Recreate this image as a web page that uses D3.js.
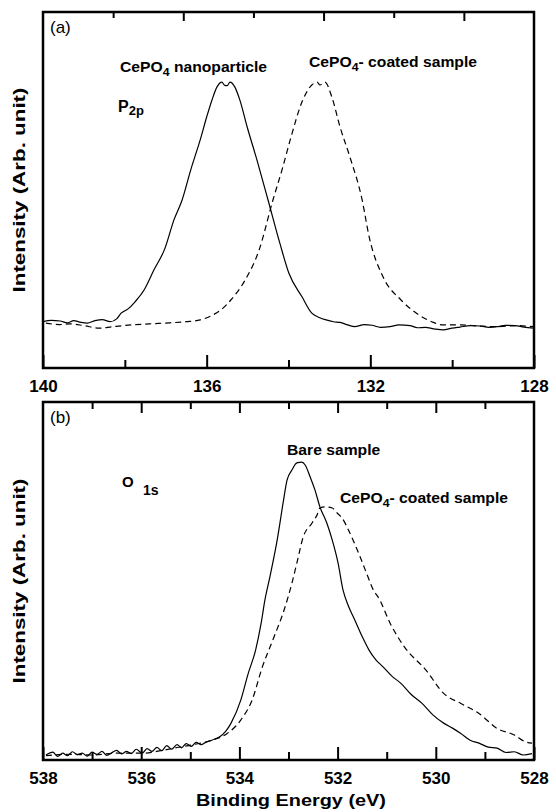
<!DOCTYPE html>
<html>
<head>
<meta charset="utf-8">
<script src="https://cdn.jsdelivr.net/npm/d3@7"></script>
<style>
  body { margin: 0; background: #fff; }
  text { font-family: "Liberation Sans", Arial, sans-serif; fill: #000; }
</style>
</head>
<body>
<div id="chart"></div>
<script>
// ---- data (binding energy eV, intensity arb.) ----
const p2pNano = [
  [140.00,13.0],[139.80,13.4],[139.58,13.2],[139.40,12.7],[139.25,13.3],[139.10,12.9],[138.92,12.6],
  [138.73,13.3],[138.55,13.6],[138.36,13.0],[138.20,13.8],[138.09,15.4],[137.92,16.6],[137.75,18.6],
  [137.53,21.9],[137.29,27.5],[137.02,33.6],[136.80,41.6],[136.60,47.2],[136.38,56.0],[136.16,64.0],
  [136.00,70.5],[135.87,75.3],[135.75,78.9],[135.63,80.3],[135.56,79.4],[135.50,79.3],[135.43,80.3],
  [135.31,78.9],[135.19,75.3],[135.01,67.7],[134.77,58.4],[134.50,47.2],[134.21,35.0],[133.99,26.6],
  [133.67,20.0],[133.43,15.4],[133.25,14.2],[133.08,13.5],[132.90,13.0],[132.74,12.8],[132.55,12.1],
  [132.38,11.6],[132.15,12.2],[131.96,12.0],[131.75,11.4],[131.52,11.6],[131.30,12.1],[131.03,11.9],
  [130.85,11.3],[130.66,11.4],[130.45,11.0],[130.22,10.7],[130.00,11.2],[129.81,11.5],[129.55,11.9],
  [129.32,11.8],[129.10,11.4],[128.90,11.6],[128.70,12.0],[128.46,11.9],[128.25,11.5],[128.00,11.2]
];
const p2pCoated = [
  [139.93,12.6],[139.60,12.2],[139.34,12.4],[139.00,11.9],[138.63,11.2],[138.30,11.6],[137.85,12.1],
  [137.40,12.4],[136.90,12.7],[136.50,13.0],[136.16,13.5],[135.85,14.9],[135.62,16.6],[135.41,19.1],
  [135.06,24.7],[134.72,33.1],[134.38,47.2],[134.15,56.0],[133.96,64.0],[133.65,75.3],[133.43,79.5],
  [133.30,80.3],[133.23,79.5],[133.11,80.3],[132.94,76.1],[132.74,67.7],[132.50,59.3],[132.20,47.2],
  [132.03,36.9],[131.69,25.6],[131.25,19.1],[130.81,14.9],[130.50,13.0],[130.22,12.1],[129.78,12.1],
  [129.35,11.8],[128.90,11.6],[128.45,11.9],[128.00,11.6]
];
const o1sBare = [
  [537.94,1.4],[537.80,2.2],[537.70,1.0],[537.60,1.9],[537.50,1.2],[537.40,2.3],[537.30,1.5],
  [537.20,1.9],[537.10,1.1],[537.00,2.2],[536.90,1.6],[536.80,2.4],[536.70,1.3],[536.60,2.0],
  [536.50,2.7],[536.40,1.7],[536.30,2.4],[536.20,1.8],[536.10,3.0],[535.98,1.9],[535.88,3.2],
  [535.78,2.4],[535.68,3.5],[535.58,2.6],[535.48,4.0],[535.38,3.0],[535.27,4.3],[535.18,3.4],
  [535.08,4.6],[534.98,3.8],[534.88,4.9],[534.78,4.3],[534.68,5.0],[534.55,5.6],[534.40,6.5],
  [534.28,8.0],[534.17,10.3],[533.97,16.8],[533.82,24.2],[533.67,30.7],[533.56,38.0],[533.48,44.7],
  [533.38,51.1],[533.23,61.5],[533.11,71.8],[533.03,78.2],[532.93,81.0],[532.83,83.0],[532.73,83.2],
  [532.66,82.4],[532.56,79.1],[532.46,75.4],[532.36,70.7],[532.22,66.2],[532.11,61.5],[531.99,55.0],
  [531.89,47.5],[531.78,43.0],[531.65,39.1],[531.50,34.5],[531.36,30.7],[531.22,28.0],[531.08,26.1],
  [530.90,23.5],[530.71,21.4],[530.50,18.3],[530.28,15.8],[530.06,12.6],[529.84,10.3],[529.66,8.9],
  [529.49,7.4],[529.30,5.5],[529.12,4.7],[528.93,3.6],[528.75,3.3],[528.57,2.1],[528.40,2.3],
  [528.22,1.4],[528.04,1.8]
];
const o1sCoated = [
  [537.94,1.2],[537.50,1.6],[537.00,1.4],[536.50,1.9],[535.98,1.9],[535.60,2.6],[535.27,3.5],
  [534.90,4.4],[534.54,5.6],[534.25,7.4],[533.97,11.2],[533.74,16.8],[533.53,26.1],[533.32,33.5],
  [533.09,41.9],[532.93,49.4],[532.83,55.0],[532.70,62.3],[532.52,66.2],[532.42,68.4],[532.36,70.4],
  [532.26,70.7],[532.11,70.4],[532.01,69.0],[531.91,67.6],[531.75,63.4],[531.54,56.7],[531.38,51.1],
  [531.30,48.3],[531.14,44.7],[530.93,38.2],[530.64,31.6],[530.20,25.1],[529.84,18.6],[529.49,15.8],
  [529.12,13.0],[528.75,8.8],[528.40,7.0],[528.18,5.1],[528.04,4.7]
];

const xMajorA = [140, 136, 132, 128];
const xMinorA = [138, 134, 130];
const topDivA = [1, 2, 3, 4, 5, 6];   // top axis of (a) is split in 7 parts in the original
const xMajorB = [538, 536, 534, 532, 530, 528];
const xMinorB = [537, 535, 533, 531, 529];

const width = 556, height = 812;
const left = 43, right = 534;

const svg = d3.select("#chart").append("svg")
  .attr("width", width).attr("height", height);
svg.append("rect").attr("width", width).attr("height", height).attr("fill", "#fff");

function drawPanel(cfg) {
  const x = d3.scaleLinear().domain(cfg.xDomain).range([left, right]);
  const y = d3.scaleLinear().domain([0, 100]).range([cfg.bottom, cfg.top]);
  const g = svg.append("g");

  const clipId = "clip" + cfg.id;
  svg.append("clipPath").attr("id", clipId).append("rect")
    .attr("x", left).attr("y", cfg.top).attr("width", right - left).attr("height", cfg.bottom - cfg.top);

  const line = d3.line().x(d => x(d[0])).y(d => y(d[1])).curve(d3.curveMonotoneX);

  g.append("path").datum(cfg.solid)
    .attr("clip-path", `url(#${clipId})`)
    .attr("fill", "none").attr("stroke", "#000").attr("stroke-width", 1.2)
    .attr("d", line);
  g.append("path").datum(cfg.dashed)
    .attr("clip-path", `url(#${clipId})`)
    .attr("fill", "none").attr("stroke", "#000").attr("stroke-width", 1.2)
    .attr("stroke-dasharray", "6,4")
    .attr("d", line);

  // bottom axis, ticks pointing inward
  const major = g.append("g").attr("transform", `translate(0,${cfg.bottom})`)
    .call(d3.axisBottom(x).tickValues(cfg.major).tickSize(-13).tickFormat(d3.format("d")));
  g.append("g").attr("transform", `translate(0,${cfg.bottom})`)
    .call(d3.axisBottom(x).tickValues(cfg.minor).tickSize(-8).tickFormat(""));

  // top axis
  if (cfg.topScale) {
    const t = cfg.topScale;
    g.append("g").attr("transform", `translate(0,${cfg.top})`)
      .call(d3.axisTop(t).tickValues(topDivA.filter(d => d % 2 === 1)).tickSize(-6).tickFormat(""));
    g.append("g").attr("transform", `translate(0,${cfg.top})`)
      .call(d3.axisTop(t).tickValues(topDivA.filter(d => d % 2 === 0)).tickSize(-9).tickFormat(""));
  } else {
    g.append("g").attr("transform", `translate(0,${cfg.top})`)
      .call(d3.axisTop(x).tickValues(cfg.major.slice(1, -1)).tickSize(-11).tickFormat(""));
    g.append("g").attr("transform", `translate(0,${cfg.top})`)
      .call(d3.axisTop(x).tickValues(cfg.minor).tickSize(-7).tickFormat(""));
  }

  g.selectAll(".domain").remove();
  g.selectAll(".tick line").attr("stroke", "#000").attr("stroke-width", 2);
  major.selectAll(".tick text")
    .attr("y", 24).attr("dy", 0)
    .attr("font-size", 17).attr("font-weight", "bold")
    .attr("font-family", "'Liberation Sans', Arial, sans-serif");

  // frame
  g.append("rect")
    .attr("x", left).attr("y", cfg.top)
    .attr("width", right - left).attr("height", cfg.bottom - cfg.top)
    .attr("fill", "none").attr("stroke", "#000").attr("stroke-width", 2.5);

  // y label
  g.append("text")
    .attr("transform", `translate(25,${(cfg.top + cfg.bottom) / 2}) rotate(-90)`)
    .attr("text-anchor", "middle")
    .attr("font-size", 16).attr("font-weight", "bold")
    .attr("textLength", 205).attr("lengthAdjust", "spacingAndGlyphs")
    .text("Intensity (Arb. unit)");

  g.append("text").attr("x", 50).attr("y", cfg.top + 21)
    .attr("font-size", 17).text(cfg.tag);

  return g;
}

const ga = drawPanel({
  id: "a", xDomain: [140, 128], top: 12, bottom: 368,
  solid: p2pNano, dashed: p2pCoated, major: xMajorA, minor: xMinorA, tag: "(a)",
  topScale: d3.scaleLinear().domain([0, 7]).range([left, right])
});
const gb = drawPanel({
  id: "b", xDomain: [538, 528], top: 402, bottom: 760,
  solid: o1sBare, dashed: o1sCoated, major: xMajorB, minor: xMinorB, tag: "(b)"
});

// annotations
function subLabel(g, x, y, main, sub, rest) {
  const t = g.append("text")
    .attr("transform", `translate(${x},${y}) scale(1.12,1)`)
    .attr("font-size", 14).attr("font-weight", "bold");
  t.append("tspan").text(main);
  t.append("tspan").attr("font-size", 11).attr("dy", 4).text(sub);
  t.append("tspan").attr("dy", -4).text(rest);
}
subLabel(ga, 120, 72, "CePO", "4", " nanoparticle");
subLabel(ga, 309, 67, "CePO", "4", "- coated sample");
subLabel(gb, 340, 503, "CePO", "4", "- coated sample");

gb.append("text")
  .attr("transform", "translate(287,455) scale(1.12,1)")
  .attr("font-size", 14).attr("font-weight", "bold").text("Bare sample");

const p2p = ga.append("text").attr("x", 118).attr("y", 112)
  .attr("font-size", 16).attr("font-weight", "bold");
p2p.append("tspan").text("P");
p2p.append("tspan").attr("font-size", 13).attr("dy", 3).text("2p");

const o1s = gb.append("text").attr("x", 122).attr("y", 487)
  .attr("font-size", 15).attr("font-weight", "bold");
o1s.append("tspan").text("O");
o1s.append("tspan").attr("x", 143).attr("dy", 8).attr("font-size", 14).text("1s");

svg.append("text")
  .attr("x", 291).attr("y", 806)
  .attr("text-anchor", "middle")
  .attr("font-size", 17).attr("font-weight", "bold")
  .attr("textLength", 190).attr("lengthAdjust", "spacingAndGlyphs")
  .text("Binding Energy (eV)");
</script>
</body>
</html>
